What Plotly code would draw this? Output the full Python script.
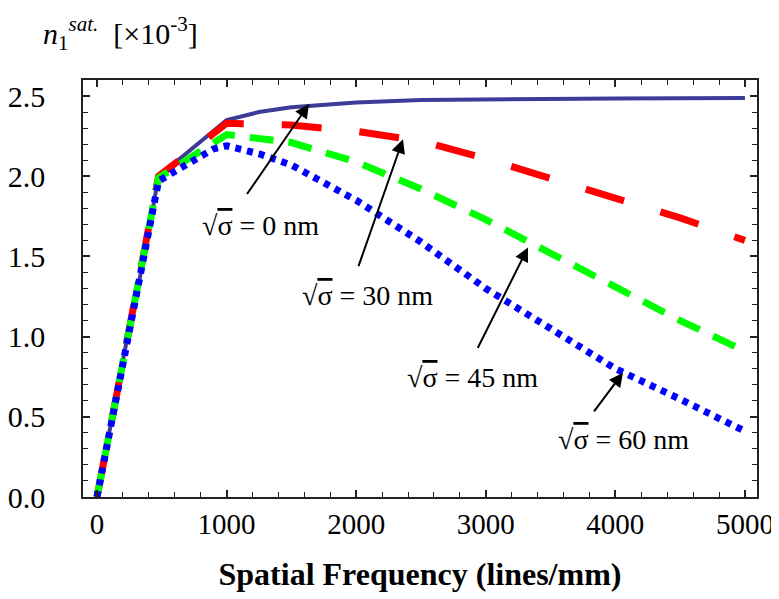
import plotly.graph_objects as go

# Shared rising part (lines/mm, n1 sat x1e-3)
x_rise = [0, 120, 235, 365, 475]
y_rise = [0.0, 0.5, 1.0, 1.5, 2.0]

# sqrt(sigma) = 0 nm (solid)
x_0 = x_rise + [1000, 1250, 1500, 2000, 2500, 3000, 4000, 5000]
y_0 = y_rise + [2.35, 2.40, 2.43, 2.46, 2.475, 2.48, 2.485, 2.487]

# sqrt(sigma) = 30 nm (red dashed)
x_30 = x_rise + [1000, 1500, 2000, 2500, 3000, 3500, 4000, 4500, 5000]
y_30 = y_rise + [2.33, 2.32, 2.28, 2.22, 2.11, 1.99, 1.87, 1.74, 1.60]

# sqrt(sigma) = 45 nm (green dashed)
x_45 = x_rise + [1000, 1500, 2000, 2500, 3000, 3500, 4000, 4500, 5000]
y_45 = [0.0, 0.5, 1.0, 1.5, 1.99] + [2.26, 2.21, 2.09, 1.92, 1.73, 1.52, 1.31, 1.10, 0.91]

# sqrt(sigma) = 60 nm (blue dotted)
x_60 = x_rise + [600, 700, 800, 900, 1000, 1250, 1500, 2000, 2500, 3000, 3500, 4000, 4500, 5000]
y_60 = [0.0, 0.5, 1.0, 1.5, 1.97] + [2.03, 2.08, 2.13, 2.17, 2.19, 2.14, 2.07, 1.85, 1.59, 1.30, 1.05, 0.80, 0.61, 0.41]

x_ticks = [0, 1000, 2000, 3000, 4000, 5000]
y_ticks = [0.0, 0.5, 1.0, 1.5, 2.0, 2.5]
y_tick_text = ["0.0", "0.5", "1.0", "1.5", "2.0", "2.5"]

labels = ["0", "30", "45", "60"]
# arrow head (x, y), arrow tail (x, y), label centre (x, y)
arrow_heads = [(1636, 2.45), (2361, 2.23), (3326, 1.556), (4059, 0.775)]
arrow_tails = [(1150, 1.88), (2014, 1.43), (2932, 0.92), (3827, 0.525)]
label_pos = [(1258, 1.694), (2091, 1.256), (2901, 0.744), (4059, 0.356)]

SERIF = "Liberation Serif"
NB = "\u00a0"

fig = go.Figure()
fig.add_trace(go.Scatter(x=x_0, y=y_0, mode="lines",
                         line=dict(color="#3c3c98", width=4)))
fig.add_trace(go.Scatter(x=x_30, y=y_30, mode="lines",
                         line=dict(color="#ff0000", width=7, dash="40px,38px")))
fig.add_trace(go.Scatter(x=x_45, y=y_45, mode="lines",
                         line=dict(color="#00ff00", width=7, dash="24px,15px")))
fig.add_trace(go.Scatter(x=x_60, y=y_60, mode="lines",
                         line=dict(color="#0000ff", width=7, dash="6px,6px")))

for (hx, hy), (tx, ty) in zip(arrow_heads, arrow_tails):
    fig.add_annotation(x=hx, y=hy, ax=tx, ay=ty, xref="x", yref="y",
                       axref="x", ayref="y", text="", showarrow=True,
                       arrowhead=2, arrowsize=1.4, arrowwidth=2,
                       arrowcolor="black", standoff=0, startstandoff=0)

for lab, (lx, ly) in zip(labels, label_pos):
    fig.add_annotation(x=lx, y=ly, xref="x", yref="y", showarrow=False,
                       text="√<span style='text-decoration:overline'>σ</span>" + NB + "=" + NB + lab + NB + "nm",
                       font=dict(family=SERIF, size=28, color="black"))

fig.add_annotation(x=-0.062, y=1.112, xref="paper", yref="paper", xanchor="left",
                   yanchor="middle", showarrow=False,
                   text="<i>n</i><sub>1</sub><sup><i>sat.</i></sup>" + NB * 2 + "[×10<sup>-3</sup>]",
                   font=dict(family=SERIF, size=30, color="black"))

fig.update_layout(
    width=771, height=591,
    margin=dict(l=75, r=22, t=72, b=102, autoexpand=False),
    paper_bgcolor="white", plot_bgcolor="white",
    showlegend=False,
    font=dict(family=SERIF, color="black"),
    xaxis=dict(range=[-108, 5093], tickvals=x_ticks, ticktext=[str(v) for v in x_ticks],
               ticks="inside", ticklen=7, tickwidth=1.5, tickcolor="#222",
               minor=dict(dtick=200, ticks="inside", ticklen=5, tickwidth=1.2, tickcolor="#222"),
               showgrid=False, zeroline=False, showline=True, linecolor="#222",
               linewidth=1.5, mirror="allticks", automargin=False,
               tickfont=dict(family=SERIF, size=29, color="black"),
               title=dict(text="<b>Spatial Frequency (lines/mm)</b>",
                          font=dict(family=SERIF, size=32, color="black"), standoff=24)),
    yaxis=dict(range=[0, 2.6], tickvals=y_ticks, ticktext=[t + NB * 4 for t in y_tick_text],
               ticks="inside", ticklen=7, tickwidth=1.5, tickcolor="#222",
               minor=dict(dtick=0.1, ticks="inside", ticklen=5, tickwidth=1.2, tickcolor="#222"),
               showgrid=False, zeroline=False, showline=True, linecolor="#222",
               linewidth=1.5, mirror="allticks", automargin=False,
               tickfont=dict(family=SERIF, size=30, color="black")),
)

fig.write_html("out.html")
